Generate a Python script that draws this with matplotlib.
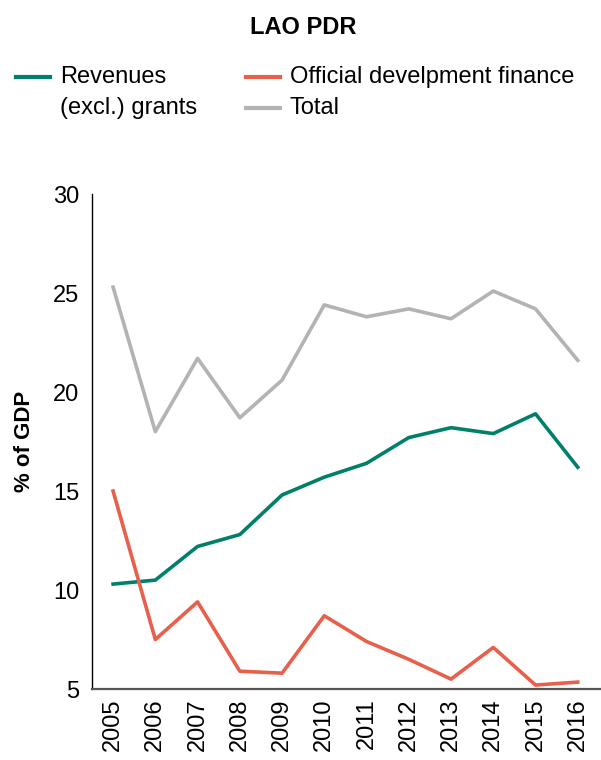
import matplotlib.pyplot as plt
from matplotlib.lines import Line2D

plt.rcParams['font.family'] = ['Liberation Sans', 'DejaVu Sans']

# --- data ---
years = [2005, 2006, 2007, 2008, 2009, 2010, 2011, 2012, 2013, 2014, 2015, 2016]
revenues = [10.3, 10.5, 12.2, 12.8, 14.8, 15.7, 16.4, 17.7, 18.2, 17.9, 18.9, 16.2]
odf = [15.0, 7.5, 9.4, 5.9, 5.8, 8.7, 7.4, 6.5, 5.5, 7.1, 5.2, 5.35]
total = [25.3, 18.0, 21.7, 18.7, 20.6, 24.4, 23.8, 24.2, 23.7, 25.1, 24.2, 21.6]
y_ticks = [5, 10, 15, 20, 25, 30]

c_rev = '#00806A'
c_odf = '#E8604C'
c_tot = '#B3B3B3'

fig = plt.figure(figsize=(6.01, 7.6), dpi=100)
ax = fig.add_axes([0.153, 0.0934, 0.847, 0.6513])

ax.plot(years, total, color=c_tot, lw=2.6)
ax.plot(years, revenues, color=c_rev, lw=2.6)
ax.plot(years, odf, color=c_odf, lw=2.6)

ax.set_xlim(2004.5, 2016.55)
ax.set_ylim(5, 30)
ax.set_yticks(y_ticks)
ax.set_xticks(years)
ax.set_xticklabels([str(y) for y in years], rotation=90)
ax.tick_params(length=0, labelsize=17, pad=7)
ax.tick_params(axis='y', pad=9)

for s in ['top', 'right']:
    ax.spines[s].set_visible(False)
ax.spines['left'].set_color('black')
ax.spines['left'].set_linewidth(1.0)
ax.spines['bottom'].set_color('#555555')
ax.spines['bottom'].set_linewidth(1.6)

# y label: semi-heavy, centred near x=25px
ax.set_ylabel('% of GDP', fontsize=16, fontweight='bold')
ax.yaxis.set_label_coords(-0.112, 0.50)

# title
fig.text(0.504, 0.964, 'LAO PDR', ha='center', va='center', fontsize=17, fontweight='bold')

# legend drawn by hand
def leg_item(x0, y, color, text):
    fy = 1 - y / 760
    fig.add_artist(Line2D([x0 / 601, (x0 + 34) / 601], [fy, fy], color=color, lw=3,
                          transform=fig.transFigure))
    fig.text((x0 + 44) / 601, fy, text, ha='left', va='center', fontsize=17)

leg_item(16, 77, c_rev, 'Revenues')
fig.text(60 / 601, 1 - 108 / 760, '(excl.) grants', ha='left', va='center', fontsize=17)
leg_item(246, 77, c_odf, 'Official develpment finance')
leg_item(246, 108, c_tot, 'Total')

fig.savefig('out.png', dpi=100)
